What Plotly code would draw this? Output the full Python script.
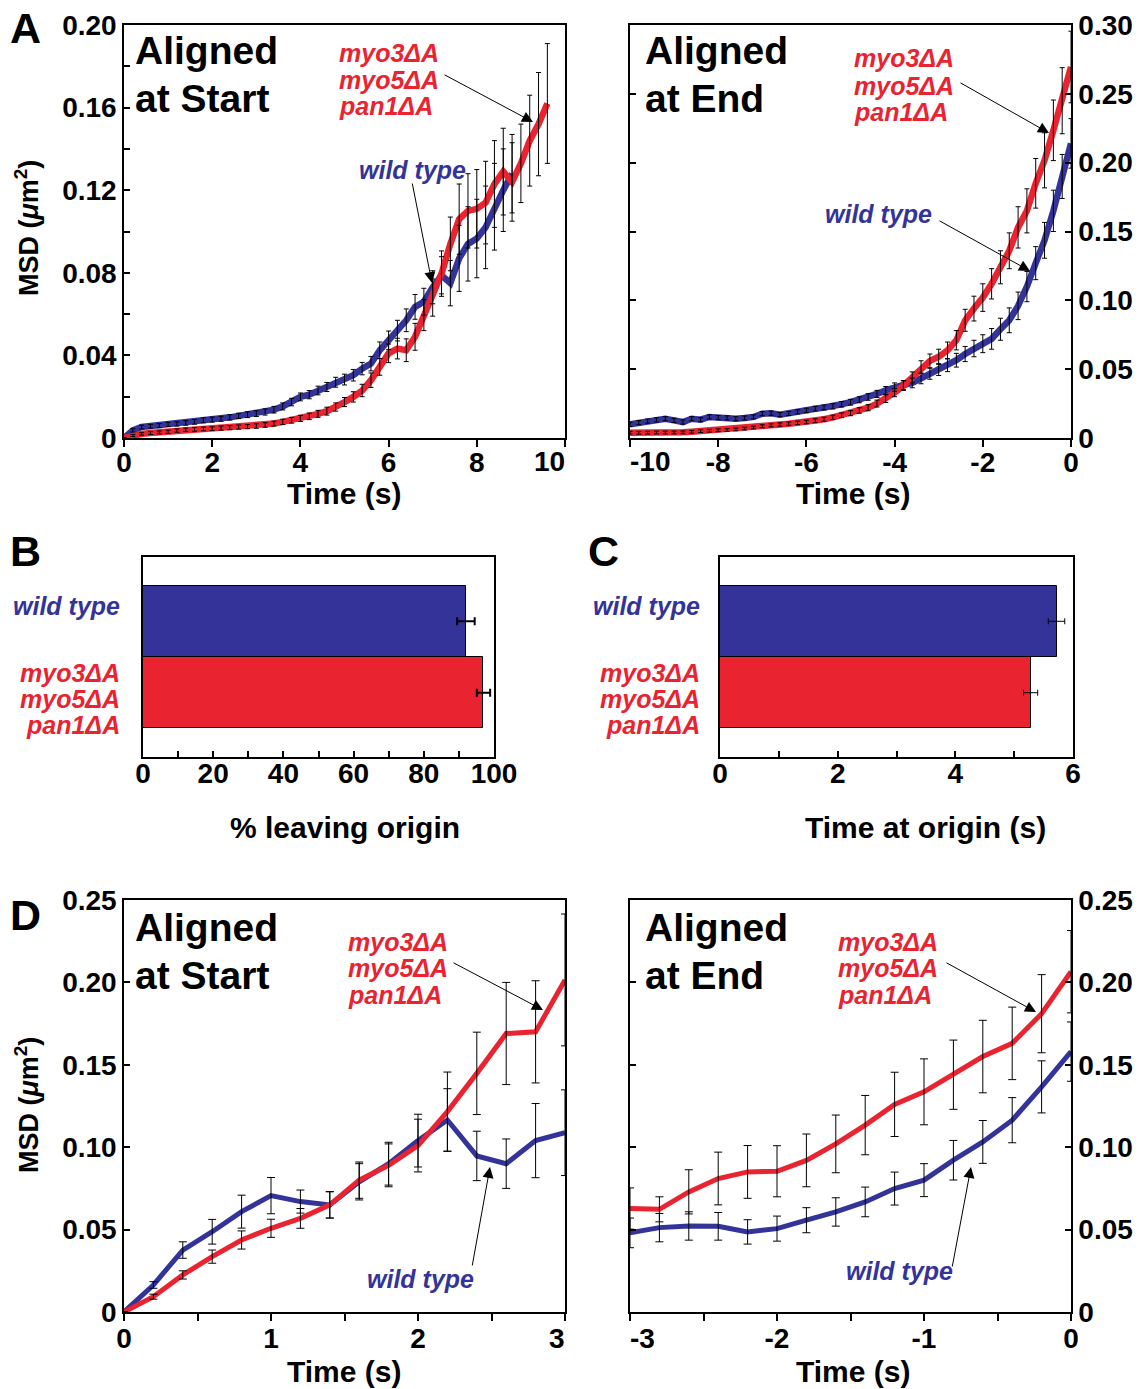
import plotly.graph_objects as go

# ---------------- data ----------------
# Panel A (aligned at start)
A_START_TIME = [0.0, 0.2, 0.4, 0.6, 0.8, 1.0, 1.2, 1.4, 1.6, 1.8,
                2.0, 2.2, 2.4, 2.6, 2.8, 3.0, 3.2, 3.4, 3.6, 3.8,
                4.0, 4.2, 4.4, 4.6, 4.8, 5.0, 5.2, 5.4, 5.6, 5.8,
                6.0, 6.2, 6.4, 6.6, 6.8, 7.0, 7.2, 7.4, 7.6, 7.8,
                8.0, 8.2, 8.4, 8.6, 8.8, 9.0, 9.2, 9.4, 9.6]
A_START_WT = [0.000, 0.0037, 0.0053, 0.0057, 0.0060, 0.0066, 0.0068, 0.0073, 0.0078, 0.0086,
              0.0089, 0.0093, 0.0100, 0.0107, 0.0113, 0.0118, 0.0126, 0.0137, 0.0153, 0.0174,
              0.0199, 0.0210, 0.0230, 0.0247, 0.0270, 0.0283, 0.0304, 0.0336, 0.0360, 0.0425,
              0.0473, 0.0520, 0.0570, 0.0635, 0.0660, 0.0730, 0.0788, 0.0750, 0.0870, 0.0940,
              0.0966, 0.1020, 0.1120, 0.1200, 0.1280]
A_START_WT_ERR = [0.0, 0.0008, 0.0009, 0.0009, 0.0010, 0.0010, 0.0010, 0.0011, 0.0011, 0.0012,
                  0.0012, 0.0012, 0.0013, 0.0013, 0.0014, 0.0014, 0.0015, 0.0016, 0.0017, 0.0018,
                  0.0019, 0.0020, 0.0021, 0.0022, 0.0024, 0.0026, 0.0028, 0.0030, 0.0035, 0.0040,
                  0.0045, 0.0050, 0.0055, 0.0060, 0.0065, 0.0080, 0.0090, 0.0110, 0.0160, 0.0180,
                  0.0190, 0.0200, 0.0210, 0.0200, 0.0190]
A_START_MUT = [0.000, 0.0012, 0.0020, 0.0024, 0.0027, 0.0030, 0.0036, 0.0040, 0.0042, 0.0044,
               0.0045, 0.0048, 0.0050, 0.0053, 0.0055, 0.0058, 0.0063, 0.0070, 0.0078, 0.0086,
               0.0095, 0.0105, 0.0117, 0.0130, 0.0150, 0.0174, 0.0199, 0.0230, 0.0280, 0.0344,
               0.0410, 0.0433, 0.0425, 0.0490, 0.0595, 0.0680, 0.0796, 0.0940, 0.1060, 0.1100,
               0.1110, 0.1140, 0.1230, 0.1290, 0.1240, 0.1330, 0.1440, 0.1520, 0.1620]
A_START_MUT_ERR = [0.0, 0.0005, 0.0006, 0.0007, 0.0007, 0.0008, 0.0008, 0.0008, 0.0009, 0.0009,
                   0.0009, 0.0010, 0.0010, 0.0010, 0.0010, 0.0011, 0.0011, 0.0012, 0.0013, 0.0014,
                   0.0015, 0.0016, 0.0017, 0.0019, 0.0020, 0.0022, 0.0025, 0.0030, 0.0035, 0.0040,
                   0.0045, 0.0050, 0.0055, 0.0065, 0.0075, 0.0090, 0.0110, 0.0130, 0.0170, 0.0180,
                   0.0190, 0.0200, 0.0210, 0.0210, 0.0190, 0.0190, 0.0220, 0.0250, 0.0290]

# Panel A (aligned at end)
A_END_TIME = [-10.0, -9.8, -9.6, -9.4, -9.2, -9.0, -8.8, -8.6, -8.4, -8.2,
              -8.0, -7.8, -7.6, -7.4, -7.2, -7.0, -6.8, -6.6, -6.4, -6.2,
              -6.0, -5.8, -5.6, -5.4, -5.2, -5.0, -4.8, -4.6, -4.4, -4.2,
              -4.0, -3.8, -3.6, -3.4, -3.2, -3.0, -2.8, -2.6, -2.4, -2.2,
              -2.0, -1.8, -1.6, -1.4, -1.2, -1.0, -0.8, -0.6, -0.4, -0.2, 0.0]
A_END_WT = [0.0099, 0.0112, 0.0123, 0.0132, 0.0140, 0.0128, 0.0116, 0.0140, 0.0133, 0.0153,
            0.0148, 0.0146, 0.0140, 0.0145, 0.0153, 0.0177, 0.0180, 0.0170, 0.0178, 0.0190,
            0.0200, 0.0213, 0.0222, 0.0230, 0.0245, 0.0260, 0.0278, 0.0298, 0.0320, 0.0346,
            0.0370, 0.0385, 0.0400, 0.0432, 0.0467, 0.0497, 0.0528, 0.0565, 0.0610, 0.0650,
            0.0685, 0.0720, 0.0790, 0.0855, 0.0960, 0.1100, 0.1270, 0.1436, 0.1650, 0.1900, 0.2140]
A_END_WT_ERR = [0.0015, 0.0015, 0.0015, 0.0015, 0.0015, 0.0015, 0.0015, 0.0015, 0.0015, 0.0015,
                0.0015, 0.0015, 0.0015, 0.0015, 0.0015, 0.0015, 0.0015, 0.0015, 0.0015, 0.0015,
                0.0016, 0.0017, 0.0018, 0.0019, 0.0020, 0.0021, 0.0022, 0.0024, 0.0026, 0.0028,
                0.0030, 0.0032, 0.0035, 0.0038, 0.0040, 0.0043, 0.0046, 0.0050, 0.0055, 0.0060,
                0.0065, 0.0075, 0.0080, 0.0090, 0.0100, 0.0110, 0.0120, 0.0130, 0.0150, 0.0160, 0.0180]
A_END_MUT = [0.0039, 0.0038, 0.0039, 0.0040, 0.0040, 0.0040, 0.0041, 0.0045, 0.0050, 0.0053,
             0.0056, 0.0058, 0.0062, 0.0068, 0.0076, 0.0085, 0.0092, 0.0098, 0.0104, 0.0110,
             0.0116, 0.0125, 0.0136, 0.0150, 0.0165, 0.0180, 0.0200, 0.0220, 0.0250, 0.0286,
             0.0330, 0.0380, 0.0440, 0.0516, 0.0560, 0.0590, 0.0637, 0.0710, 0.0855, 0.0940,
             0.1020, 0.1120, 0.1240, 0.1360, 0.1530, 0.1650, 0.1850, 0.2017, 0.2235, 0.2450, 0.2695]
A_END_MUT_ERR = [0.0010, 0.0010, 0.0010, 0.0010, 0.0010, 0.0010, 0.0010, 0.0010, 0.0010, 0.0010,
                 0.0010, 0.0010, 0.0010, 0.0010, 0.0010, 0.0011, 0.0011, 0.0012, 0.0012, 0.0013,
                 0.0013, 0.0014, 0.0015, 0.0016, 0.0017, 0.0018, 0.0020, 0.0022, 0.0025, 0.0028,
                 0.0030, 0.0035, 0.0040, 0.0045, 0.0050, 0.0055, 0.0060, 0.0070, 0.0080, 0.0090,
                 0.0100, 0.0110, 0.0120, 0.0130, 0.0150, 0.0160, 0.0180, 0.0200, 0.0220, 0.0240, 0.0260]

# Panel B and C
BAR_VALUES_B = [92.0, 97.0]
BAR_ERR_B = [2.5, 1.9]
BAR_VALUES_C = [5.72, 5.28]
BAR_ERR_C = [0.14, 0.12]

# Panel D (aligned at start)
D_START_TIME = [0.0, 0.2, 0.4, 0.6, 0.8, 1.0, 1.2, 1.4, 1.6, 1.8, 2.0, 2.2, 2.4, 2.6, 2.8, 3.0]
D_START_WT = [0.0, 0.0164, 0.0376, 0.0487, 0.0609, 0.0706, 0.0670, 0.0650,
              0.0790, 0.0900, 0.1040, 0.1165, 0.0947, 0.0900, 0.1040, 0.1088]
D_START_WT_ERR = [0.0, 0.0020, 0.0050, 0.0075, 0.0100, 0.0110, 0.0070, 0.0080,
                  0.0110, 0.0130, 0.0160, 0.0190, 0.0150, 0.0150, 0.0225, 0.0260]
D_START_MUT = [0.0, 0.0093, 0.0225, 0.0336, 0.0437, 0.0508, 0.0568, 0.0650,
               0.0800, 0.0890, 0.1010, 0.1216, 0.1448, 0.1690, 0.1700, 0.2015]
D_START_MUT_ERR = [0.0, 0.0015, 0.0025, 0.0040, 0.0055, 0.0055, 0.0060, 0.0080,
                   0.0110, 0.0130, 0.0160, 0.0240, 0.0250, 0.0310, 0.0310, 0.0400]

# Panel D (aligned at end)
D_END_TIME = [-3.0, -2.8, -2.6, -2.4, -2.2, -2.0, -1.8, -1.6, -1.4, -1.2, -1.0, -0.8, -0.6, -0.4, -0.2, 0.0]
D_END_WT = [0.0480, 0.0512, 0.0522, 0.0520, 0.0486, 0.0506, 0.0557, 0.0607,
            0.0668, 0.0749, 0.0800, 0.0921, 0.1032, 0.1164, 0.1366, 0.1580]
D_END_WT_ERR = [0.0090, 0.0086, 0.0086, 0.0084, 0.0074, 0.0076, 0.0076, 0.0086,
                0.0090, 0.0100, 0.0100, 0.0120, 0.0130, 0.0137, 0.0158, 0.0180]
D_END_MUT = [0.0628, 0.0623, 0.0729, 0.0810, 0.0850, 0.0854, 0.0920, 0.1020,
             0.1134, 0.1260, 0.1336, 0.1440, 0.1550, 0.1630, 0.1810, 0.2065]
D_END_MUT_ERR = [0.0125, 0.0076, 0.0134, 0.0160, 0.0160, 0.0155, 0.0160, 0.0175,
                 0.0180, 0.0195, 0.0200, 0.0210, 0.0220, 0.0220, 0.0237, 0.0250]

# tick labels
A_START_XTICKS = [0, 2, 4, 6, 8, 10]
A_START_XTEXT = ['0', '2', '4', '6', '8', '']
A_END_XTICKS = [-10, -8, -6, -4, -2, 0]
A_END_XTEXT = ['', '-8', '-6', '-4', '-2', '0']
A_START_YTICKS = [0, 0.04, 0.08, 0.12, 0.16, 0.20]
A_START_YTEXT = ['0', '0.04', '0.08', '0.12', '0.16', '0.20']
A_END_YTICKS = [0, 0.05, 0.10, 0.15, 0.20, 0.25, 0.30]
A_END_YTEXT = ['0', '0.05', '0.10', '0.15', '0.20', '0.25', '0.30']
B_XTICKS = [0, 20, 40, 60, 80, 100]
C_XTICKS = [0, 2, 4, 6]
D_START_XTICKS = [0, 1, 2, 3]
D_START_XTEXT = ['0', '1', '2', '']
D_END_XTICKS = [-3, -2, -1, 0]
D_END_XTEXT = ['', '-2', '-1', '0']
D_YTICKS = [0, 0.05, 0.10, 0.15, 0.20, 0.25]
D_YTEXT = ['0', '0.05', '0.10', '0.15', '0.20', '0.25']

MUT_LINES = ['myo3ΔA', 'myo5ΔA', 'pan1ΔA']
WT_LABEL = 'wild type'

# ---------------- style ----------------
W, H = 1146, 1389
BLUE = '#333399'
RED = '#EA2330'
FONT = 'Liberation Sans, Arial, Helvetica, sans-serif'
TICKF = 28


def px_x(p):
    return p / W


def px_y(p):
    return 1 - p / H


fig = go.Figure()


def add_curves(xa, ya, t_wt, wt, wt_err, t_mut, mut, mut_err, lw, capw):
    fig.add_trace(go.Scatter(x=t_wt, y=wt, mode='lines', line=dict(color=BLUE, width=lw),
                             xaxis=xa, yaxis=ya, showlegend=False, hoverinfo='skip'))
    fig.add_trace(go.Scatter(x=t_mut, y=mut, mode='lines', line=dict(color=RED, width=lw),
                             xaxis=xa, yaxis=ya, showlegend=False, hoverinfo='skip'))
    for t, v, e in ((t_wt, wt, wt_err), (t_mut, mut, mut_err)):
        fig.add_trace(go.Scatter(x=t, y=v, mode='lines', line=dict(width=0, color='rgba(0,0,0,0)'),
                                 error_y=dict(type='data', array=e, visible=True, color='black',
                                              thickness=1, width=capw),
                                 xaxis=xa, yaxis=ya, showlegend=False, hoverinfo='skip'))


add_curves('x', 'y', A_START_TIME[:len(A_START_WT)], A_START_WT, A_START_WT_ERR,
           A_START_TIME, A_START_MUT, A_START_MUT_ERR, 6.5, 2.5)
add_curves('x2', 'y2', A_END_TIME, A_END_WT, A_END_WT_ERR,
           A_END_TIME, A_END_MUT, A_END_MUT_ERR, 6.5, 2.5)
add_curves('x5', 'y5', D_START_TIME, D_START_WT, D_START_WT_ERR,
           D_START_TIME, D_START_MUT, D_START_MUT_ERR, 5, 4)
add_curves('x6', 'y6', D_END_TIME, D_END_WT, D_END_WT_ERR,
           D_END_TIME, D_END_MUT, D_END_MUT_ERR, 5, 4)

fig.add_trace(go.Bar(orientation='h', y=[0, 1], x=BAR_VALUES_B, width=1,
                     marker=dict(color=[BLUE, RED], line=dict(color='black', width=1)),
                     error_x=dict(type='data', array=BAR_ERR_B, visible=True, color='black',
                                  thickness=2, width=4),
                     xaxis='x3', yaxis='y3', showlegend=False, hoverinfo='skip'))
fig.add_trace(go.Bar(orientation='h', y=[0, 1], x=BAR_VALUES_C, width=1,
                     marker=dict(color=[BLUE, RED], line=dict(color='black', width=1)),
                     error_x=dict(type='data', array=BAR_ERR_C, visible=True, color='black',
                                  thickness=1, width=3),
                     xaxis='x4', yaxis='y4', showlegend=False, hoverinfo='skip'))


def axis(**kw):
    d = dict(showline=True, linecolor='black', linewidth=1.5, mirror=True, showgrid=False,
             zeroline=False, tickcolor='black', tickwidth=1.5, ticklen=6, automargin=False,
             tickfont=dict(family=FONT, size=TICKF, color='black', weight='bold'))
    d.update(kw)
    return d


Y_A = [px_y(438), px_y(25)]
Y_B = [px_y(757), px_y(557)]
Y_D = [px_y(1312), px_y(900)]
X_L = [px_x(124), px_x(565)]
X_R = [px_x(630), px_x(1071)]

fig.update_layout(
    width=W, height=H, margin=dict(l=0, r=0, t=0, b=0, autoexpand=False),
    paper_bgcolor='white', plot_bgcolor='white', showlegend=False, bargap=0,
    xaxis=axis(domain=X_L, range=[0, 10], anchor='y', tickmode='array',
               tickvals=A_START_XTICKS, ticktext=A_START_XTEXT, ticks='outside', ticklen=7,
               ticklabelstandoff=-8),
    yaxis=axis(domain=Y_A, range=[0, 0.2], anchor='x', tickmode='array',
               tickvals=A_START_YTICKS, ticktext=A_START_YTEXT, ticks='inside',
               minor=dict(dtick=0.02, ticks='inside', ticklen=6, tickcolor='black', tickwidth=1.5)),
    xaxis2=axis(domain=X_R, range=[-10, 0], anchor='y2', tickmode='array',
                tickvals=A_END_XTICKS, ticktext=A_END_XTEXT, ticks='outside', ticklen=7,
                ticklabelstandoff=-8),
    yaxis2=axis(domain=Y_A, range=[0, 0.3], anchor='x2', side='right', tickmode='array',
                tickvals=A_END_YTICKS, ticktext=A_END_YTEXT, ticks='inside', mirror='ticks'),
    xaxis3=axis(domain=[px_x(143), px_x(494)], range=[0, 100], anchor='y3', tickmode='array',
                tickvals=B_XTICKS, ticks='inside', ticklabelstandoff=-9,
                minor=dict(dtick=10, ticks='inside', ticklen=6, tickcolor='black', tickwidth=1.5)),
    yaxis3=axis(domain=Y_B, range=[1.9, -0.9], anchor='x3', showticklabels=False, ticks=''),
    xaxis4=axis(domain=[px_x(720), px_x(1073)], range=[0, 6], anchor='y4', tickmode='array',
                tickvals=C_XTICKS, ticks='inside', ticklabelstandoff=-9,
                minor=dict(dtick=1, ticks='inside', ticklen=6, tickcolor='black', tickwidth=1.5)),
    yaxis4=axis(domain=Y_B, range=[1.9, -0.9], anchor='x4', showticklabels=False, ticks=''),
    xaxis5=axis(domain=X_L, range=[0, 3], anchor='y5', tickmode='array',
                tickvals=D_START_XTICKS, ticktext=D_START_XTEXT, ticks='outside', ticklen=7,
                ticklabelstandoff=-6,
                minor=dict(dtick=0.5, ticks='outside', ticklen=7, tickcolor='black', tickwidth=1.5)),
    yaxis5=axis(domain=Y_D, range=[0, 0.25], anchor='x5', tickmode='array',
                tickvals=D_YTICKS, ticktext=D_YTEXT, ticks='inside'),
    xaxis6=axis(domain=X_R, range=[-3, 0], anchor='y6', tickmode='array',
                tickvals=D_END_XTICKS, ticktext=D_END_XTEXT, ticks='outside', ticklen=7,
                ticklabelstandoff=-6,
                minor=dict(dtick=0.5, ticks='outside', ticklen=7, tickcolor='black', tickwidth=1.5)),
    yaxis6=axis(domain=Y_D, range=[0, 0.25], anchor='x6', side='right', tickmode='array',
                tickvals=D_YTICKS, ticktext=D_YTEXT, ticks='inside', mirror='ticks'),
)


def txt(text, x, y, size, color='black', xanchor='left', italic=False, angle=0):
    fig.add_annotation(text=text, x=px_x(x), y=px_y(y), xref='paper', yref='paper',
                       xanchor=xanchor, yanchor='middle', showarrow=False, textangle=angle,
                       font=dict(family=FONT, size=size, color=color, weight='bold',
                                 style='italic' if italic else 'normal'))


def arrow(hx, hy, tx, ty):
    fig.add_annotation(x=px_x(hx), y=px_y(hy), xref='paper', yref='paper',
                       ax=tx - hx, ay=ty - hy, text='', showarrow=True,
                       arrowhead=2, arrowsize=2.2, arrowwidth=1, arrowcolor='black')


# panel letters
txt('A', 8, 28, 43)
txt('B', 8, 551, 43)
txt('C', 586, 551, 43)
txt('D', 8, 915, 43)

# end tick labels (offset like the original)
txt('10', 567, 462, TICKF, xanchor='right')
txt('-10', 628, 462, TICKF)
txt('3', 567, 1338, TICKF, xanchor='right')
txt('-3', 628, 1338, TICKF)

# axis titles
for cx, cy, t in ((344, 493, 'Time (s)'), (853, 493, 'Time (s)'),
                  (344, 1371, 'Time (s)'), (853, 1371, 'Time (s)'),
                  (345, 827, '% leaving origin'), (925, 827, 'Time at origin (s)')):
    txt(t, cx, cy, 30, xanchor='center')
for cy in (228, 1105):
    txt('MSD (<i>μ</i>m<sup>2</sup>)', 27, cy, 27, xanchor='center', angle=-90)

# panel texts
for lx, y1, y2, t2 in ((133, 51, 99, 'at Start'), (643, 51, 99, 'at End'),
                       (133, 927, 975, 'at Start'), (643, 927, 975, 'at End')):
    txt('Aligned', lx, y1, 39)
    txt(t2, lx, y2, 39)


def mut_label(x, ys, xanchor='left'):
    for line, y in zip(MUT_LINES, ys):
        txt(line, x, y, 25, color=RED, italic=True, xanchor=xanchor)


mut_label(337, (53, 80, 106))
mut_label(852, (58, 86, 112))
mut_label(346, (942, 968, 995))
mut_label(836, (942, 968, 995))
txt(WT_LABEL, 357, 170, 25, color=BLUE, italic=True)
txt(WT_LABEL, 823, 214, 25, color=BLUE, italic=True)
txt(WT_LABEL, 365, 1279, 25, color=BLUE, italic=True)
txt(WT_LABEL, 844, 1271, 25, color=BLUE, italic=True)

# bar category labels
for rx in (122, 702):
    txt(WT_LABEL, rx, 606, 25, color=BLUE, italic=True, xanchor='right')
    mut_label(rx, (673, 699, 725), xanchor='right')

# arrows
arrow(533, 122, 443, 74)
arrow(432, 283, 412, 182)
arrow(1049, 133, 959, 82)
arrow(1030, 271, 938, 220)
arrow(543, 1010, 452, 962)
arrow(490, 1167, 472, 1267)
arrow(1036, 1012, 945, 962)
arrow(971, 1167, 952, 1268)

fig.write_html('out.html')
